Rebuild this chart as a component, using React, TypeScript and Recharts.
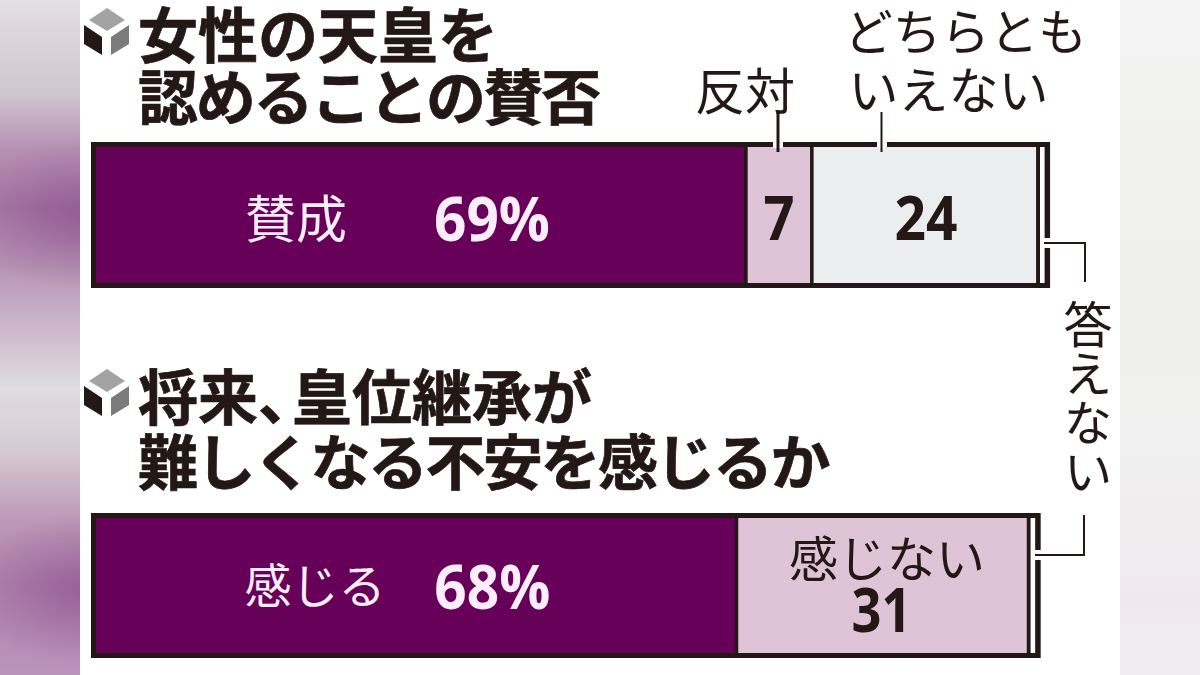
import React from 'react';
import { BarChart, Bar, XAxis, YAxis, LabelList } from 'recharts';

const INK = '#231815';
const PURPLE = '#660058';
const PINK = '#dfc4d8';
const GREY = '#ebeeee';
const JP = '"Noto Sans CJK JP", sans-serif';
const NUM = '"Open Sans", sans-serif';

// Values
const question1 = '女性の天皇を認めることの賛否';
const q1Names = ['賛成', '反対', 'どちらともいえない', '答えない'];
const q1Values = [69, 7, 24, 0.7];
const question2 = '将来、皇位継承が難しくなる不安を感じるか';
const q2Names = ['感じる', '感じない', '答えない'];
const q2Values = [68, 31, 0.7];

const q1Fills = [PURPLE, PINK, GREY, '#ffffff'];
const q2Fills = [PURPLE, PINK, '#ffffff'];
const q1Labels = [
  { dx: 71, dy: 3, color: '#fbeefa', suffix: '%', len: 116 },
  { dx: 0, dy: 2, color: INK, suffix: '', len: 31 },
  { dx: 1, dy: 2, color: INK, suffix: '', len: 63 },
  null,
];
const q2Labels = [
  { dx: 76, dy: 0, color: '#fbeefa', suffix: '%', len: 116 },
  { dx: -1, dy: 23, color: INK, suffix: '', len: 60 },
  null,
];

const FRAME = 5;
const SEP = 1.7;

const segmentShape = (index: number, count: number) => (props: any) => {
  const { x, y, width, height, fill } = props;
  const first = index === 0;
  const last = index === count - 1;
  const outerL = first ? x - FRAME : x - SEP;
  const outerR = last ? x + width + FRAME + 0.5 : x + width;
  const innerL = first ? x : x + (last ? 2 : SEP);
  const innerR = last ? x + width : x + width - SEP;
  return (
    <g>
      <rect x={outerL} y={y} width={outerR - outerL} height={height} fill={INK} />
      <rect x={innerL} y={y + FRAME} width={innerR - innerL} height={height - FRAME * 2} fill={fill} />
    </g>
  );
};

function StackRow({ top, height, category, names, values, fills, labels }: any) {
  const row: any = { category };
  names.forEach((n: string, i: number) => { row[n] = values[i]; });
  return (
    <div style={{ position: 'absolute', left: 0, top, width: 1200, height }}>
      <BarChart
        width={1200}
        height={height}
        data={[row]}
        layout="vertical"
        margin={{ top: 0, right: 67.8, bottom: 0, left: 96 }}
        barCategoryGap={0}
      >
        <XAxis type="number" domain={[0, 110]} hide />
        <YAxis type="category" dataKey="category" hide />
        {names.map((n: string, i: number) => (
          <Bar
            key={n}
            dataKey={n}
            stackId="a"
            fill={fills[i]}
            isAnimationActive={false}
            shape={segmentShape(i, names.length)}
          >
            {labels[i] && (
              <LabelList
                dataKey={n}
                content={(p: any) => (
                  <text
                    x={p.x + p.width / 2 + labels[i].dx}
                    y={p.y + p.height / 2 + labels[i].dy}
                    textAnchor="middle"
                    dominantBaseline="central"
                    fontFamily={NUM}
                    fontWeight={700}
                    fontSize={60}
                    fill={labels[i].color}
                    textLength={labels[i].len}
                    lengthAdjust="spacingAndGlyphs"
                  >
                    {p.value}
                    {labels[i].suffix}
                  </text>
                )}
              />
            )}
          </Bar>
        ))}
      </BarChart>
    </div>
  );
}

const Cube = ({ dy }: { dy: number }) => (
  <g transform={`translate(0 ${dy})`}>
    <polygon points="107,8 125,20 107,31 89,20" fill="#a3a3a3" />
    <polygon points="84,25 102,37 102,55 84,44" fill={INK} />
    <polygon points="111,37 129,25 129,44 111,55" fill="#7b7b7b" />
  </g>
);

const Title = ({ y, spacing = 0, children }: any) => (
  <text x={138} y={y} fontFamily={JP} fontWeight={700} fontSize={60} letterSpacing={spacing} fill={INK} stroke={INK} strokeWidth={0.7} dominantBaseline="central">
    {children}
  </text>
);

const Note = ({ x, y, text, size, fill = INK, anchor = 'middle' }: any) => (
  <text x={x} y={y} fontFamily={JP} fontWeight={400} fontSize={size} fill={fill} textAnchor={anchor} dominantBaseline="central">
    {text}
  </text>
);

export default function App() {
  return (
    <div style={{ position: 'fixed', left: 0, top: 0, width: 1200, height: 675, overflow: 'hidden', background: '#fff' }}>
      <div
        style={{
          position: 'absolute', left: 0, top: 0, width: 80, height: 675,
          background:
            'radial-gradient(ellipse 125px 75px at 85px 215px, rgba(125,60,130,0.5), rgba(125,60,130,0)), radial-gradient(ellipse 125px 75px at 85px 590px, rgba(125,60,130,0.5), rgba(125,60,130,0)), linear-gradient(to bottom, #e3dfe2 0, #cfc5ce 95px, #b690b3 150px, #aa7ca7 207px, #b896b6 270px, #cdb9cc 330px, #e0dce1 388px, #d6cbd4 450px, #bd98b8 520px, #b286af 582px, #bb93bb 675px)',
        }}
      />
      <div
        style={{
          position: 'absolute', left: 1120, top: 0, width: 80, height: 675,
          background: 'linear-gradient(to bottom, #f3f3f3 0, #efefed 280px, #f0f0f0 450px, #efe9ed 600px, #f0ecf0 675px)',
        }}
      />
      <StackRow top={142} height={146} category={question1} names={q1Names} values={q1Values} fills={q1Fills} labels={q1Labels} />
      <StackRow top={513} height={145} category={question2} names={q2Names} values={q2Values} fills={q2Fills} labels={q2Labels} />

      <svg width={1200} height={675} style={{ position: 'absolute', left: 0, top: 0 }}>
        <Cube dy={0} />
        <Cube dy={361} />
        <Title y={31}>女性の天皇を</Title>
        <Title y={93} spacing={-2.3}>認めることの賛否</Title>
        <Title y={393}>
          将来、<tspan dx={-26}>皇位継承が</tspan>
        </Title>
        <Title y={458} spacing={-2.5}>難しくなる不安を感じるか</Title>

        <Note x={745} y={88} size={50} text="反対" />
        <Note x={965.5} y={29} size={48.5} text="どちらとも" />
        <Note x={948.5} y={87} size={50} text="いえない" />
        <Note x={296} y={216} size={51} fill="#fbeefa" text="賛成" />
        <Note x={315} y={582} size={47} fill="#fbeefa" text="感じる" />
        <Note x={887} y={555} size={49} text="感じない" />
        <text x={1088} y={398} fontFamily={JP} fontWeight={400} fontSize={49} fill={INK} textAnchor="middle" style={{ writingMode: 'vertical-rl' } as any}>
          答えない
        </text>

        {/* leader lines */}
        <rect x={773} y={141} width={10} height={7} fill="#fff" />
        <rect x={877} y={141} width={10} height={7} fill="#fff" />
        <line x1={778} y1={112} x2={778} y2={152} stroke={INK} strokeWidth={3} />
        <line x1={881.5} y1={112} x2={881.5} y2={152} stroke={INK} strokeWidth={2} />

        <rect x={1044} y={238} width={7} height={10} fill="#fff" />
        <polyline points="1044,243 1085,243 1085,282" fill="none" stroke={INK} strokeWidth={2} />
        <rect x={1035} y={550} width={7} height={10} fill="#fff" />
        <polyline points="1035,555 1084,555 1084,515" fill="none" stroke={INK} strokeWidth={2} />
      </svg>
    </div>
  );
}
